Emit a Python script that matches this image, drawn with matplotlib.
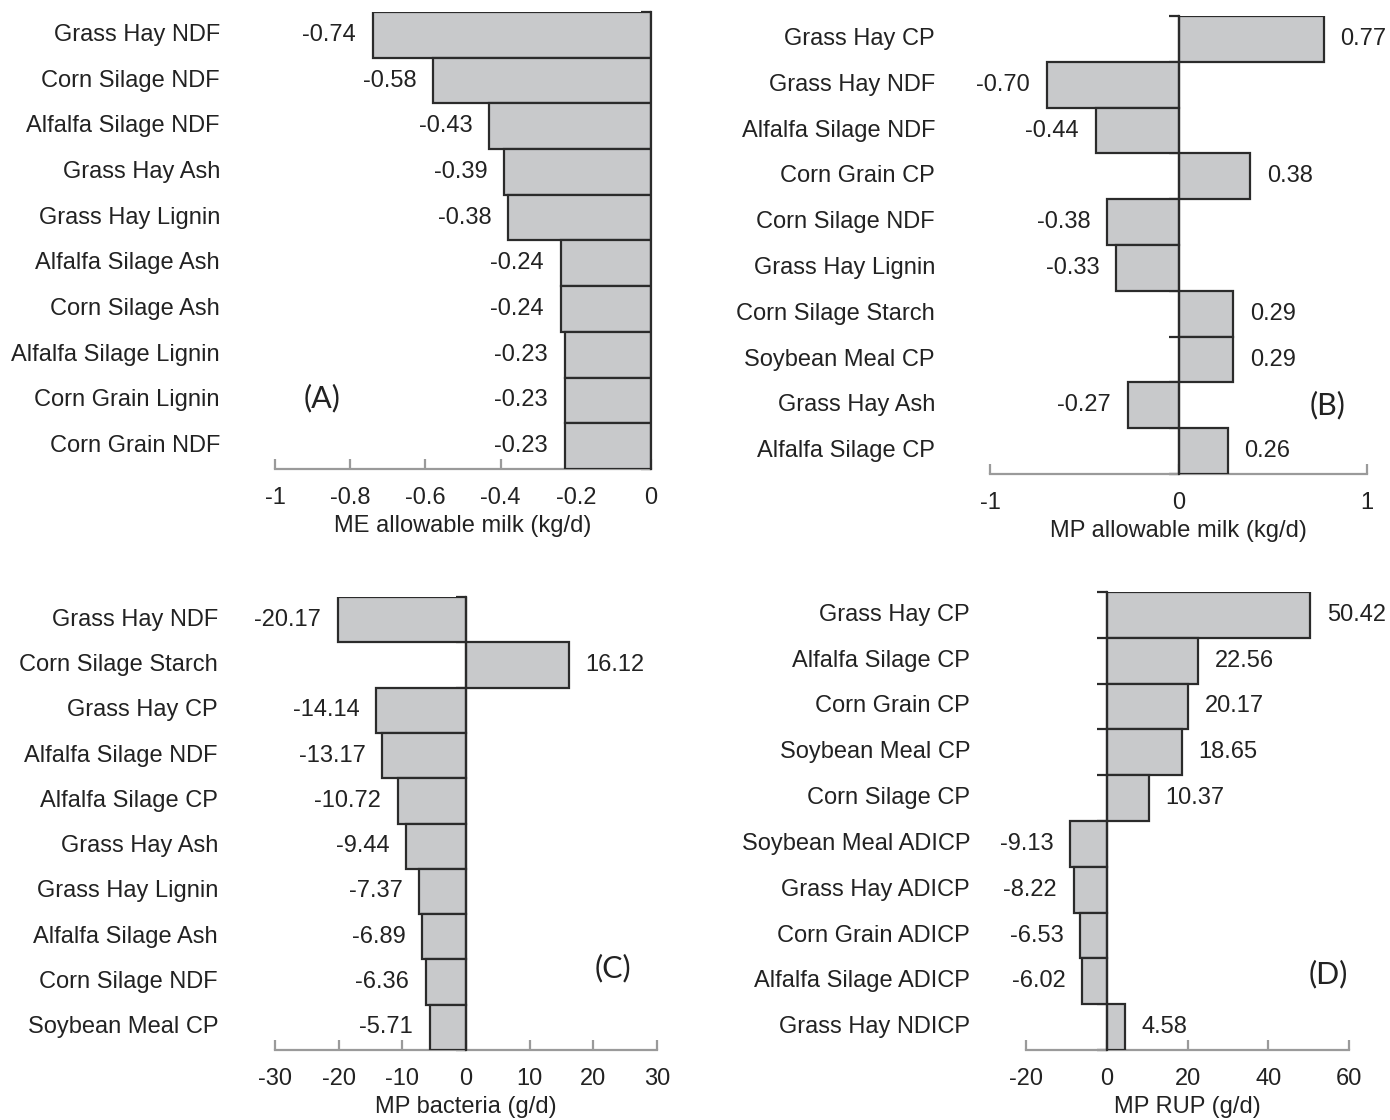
import matplotlib
matplotlib.use("Agg")
import matplotlib.pyplot as plt
import matplotlib.transforms as mtransforms

plt.rcParams["font.family"] = ["Liberation Sans", "DejaVu Sans"]

# ---- data -------------------------------------------------------------
me_labels = ["Grass Hay NDF", "Corn Silage NDF", "Alfalfa Silage NDF", "Grass Hay Ash",
             "Grass Hay Lignin", "Alfalfa Silage Ash", "Corn Silage Ash",
             "Alfalfa Silage Lignin", "Corn Grain Lignin", "Corn Grain NDF"]
me_values = [-0.74, -0.58, -0.43, -0.39, -0.38, -0.24, -0.24, -0.23, -0.23, -0.23]
me_ticks = [-1, -0.8, -0.6, -0.4, -0.2, 0]

mp_labels = ["Grass Hay CP", "Grass Hay NDF", "Alfalfa Silage NDF", "Corn Grain CP",
             "Corn Silage NDF", "Grass Hay Lignin", "Corn Silage Starch",
             "Soybean Meal CP", "Grass Hay Ash", "Alfalfa Silage CP"]
mp_values = [0.77, -0.70, -0.44, 0.38, -0.38, -0.33, 0.29, 0.29, -0.27, 0.26]
mp_ticks = [-1, 0, 1]

bac_labels = ["Grass Hay NDF", "Corn Silage Starch", "Grass Hay CP", "Alfalfa Silage NDF",
              "Alfalfa Silage CP", "Grass Hay Ash", "Grass Hay Lignin",
              "Alfalfa Silage Ash", "Corn Silage NDF", "Soybean Meal CP"]
bac_values = [-20.17, 16.12, -14.14, -13.17, -10.72, -9.44, -7.37, -6.89, -6.36, -5.71]
bac_ticks = [-30, -20, -10, 0, 10, 20, 30]

rup_labels = ["Grass Hay CP", "Alfalfa Silage CP", "Corn Grain CP", "Soybean Meal CP",
              "Corn Silage CP", "Soybean Meal ADICP", "Grass Hay ADICP",
              "Corn Grain ADICP", "Alfalfa Silage ADICP", "Grass Hay NDICP"]
rup_values = [50.42, 22.56, 20.17, 18.65, 10.37, -9.13, -8.22, -6.53, -6.02, 4.58]
rup_ticks = [-20, 0, 20, 40, 60]

FIG_W, FIG_H = 1390, 1120
TEXT = "#222222"
BAR = "#c8c9cb"
EDGE = "#2b2b2b"
AXIS_GRAY = "#9a9a9a"
FS = 17

fig = plt.figure(figsize=(FIG_W / 100, FIG_H / 100), dpi=100)


def px_axes(x0, x1, ytop, ybot):
    return fig.add_axes([x0 / FIG_W, 1 - ybot / FIG_H, (x1 - x0) / FIG_W, (ybot - ytop) / FIG_H])


def panel(box, labels, values, ticks, xlabel, fmt, tag, tag_pos, label_right_px):
    ax = px_axes(*box)
    n = len(values)
    ys = list(range(n))
    ax.barh(ys, values, height=1.0, color=BAR, edgecolor=EDGE, linewidth=1.6, zorder=3)
    ax.set_ylim(n - 0.5, -0.5)
    ax.set_xlim(ticks[0], ticks[-1])

    for s in ("top", "right"):
        ax.spines[s].set_visible(False)
    ax.spines["bottom"].set_color(AXIS_GRAY)
    ax.spines["bottom"].set_linewidth(1.6)
    ax.spines["left"].set_position(("data", 0))
    ax.spines["left"].set_color(EDGE)
    ax.spines["left"].set_linewidth(1.6)
    ax.spines["left"].set_zorder(4)

    ax.set_xticks(ticks)
    ax.set_xticklabels([f"{t:g}" for t in ticks], fontsize=FS, color=TEXT)
    ax.tick_params(axis="x", direction="in", length=7, width=1.6, color=AXIS_GRAY, pad=13)
    ax.set_yticks([i - 0.5 for i in range(n + 1)])
    ax.set_yticklabels([])
    ax.tick_params(axis="y", direction="out", length=7, width=1.6, color=EDGE)
    ax.set_xlabel(xlabel, fontsize=FS, color=TEXT, labelpad=4)

    # category names, right-aligned at a fixed pixel column
    x_ax = (label_right_px - box[0]) / (box[1] - box[0])
    trans = mtransforms.blended_transform_factory(ax.transAxes, ax.transData)
    for y, lab in zip(ys, labels):
        ax.text(x_ax, y, lab, transform=trans, ha="right", va="center",
                fontsize=FS, color=TEXT, clip_on=False)

    # value labels just beyond each bar end
    for y, v in zip(ys, values):
        off = 12 if v >= 0 else -12
        ax.annotate(fmt.format(v), (v, y), xytext=(off, 0), textcoords="offset points",
                    ha="left" if v >= 0 else "right", va="center",
                    fontsize=FS, color=TEXT, annotation_clip=False)

    ax.text(tag_pos[0], tag_pos[1], tag, transform=ax.transAxes, ha="center", va="center",
            fontsize=22, color=TEXT, family=["Lato", "DejaVu Sans"])
    return ax


panel((275, 651, 12, 469), me_labels, me_values, me_ticks,
      "ME allowable milk (kg/d)", "{:.2f}", "(A)", (0.125, 0.155), 220)
panel((990, 1367, 16, 474), mp_labels, mp_values, mp_ticks,
      "MP allowable milk (kg/d)", "{:.2f}", "(B)", (0.895, 0.15), 935)
panel((275, 657, 597, 1050), bac_labels, bac_values, bac_ticks,
      "MP bacteria (g/d)", "{:.2f}", "(C)", (0.885, 0.18), 218)
panel((1026, 1349, 592, 1050), rup_labels, rup_values, rup_ticks,
      "MP RUP (g/d)", "{:.2f}", "(D)", (0.935, 0.165), 970)

fig.savefig("out.png", dpi=100)
